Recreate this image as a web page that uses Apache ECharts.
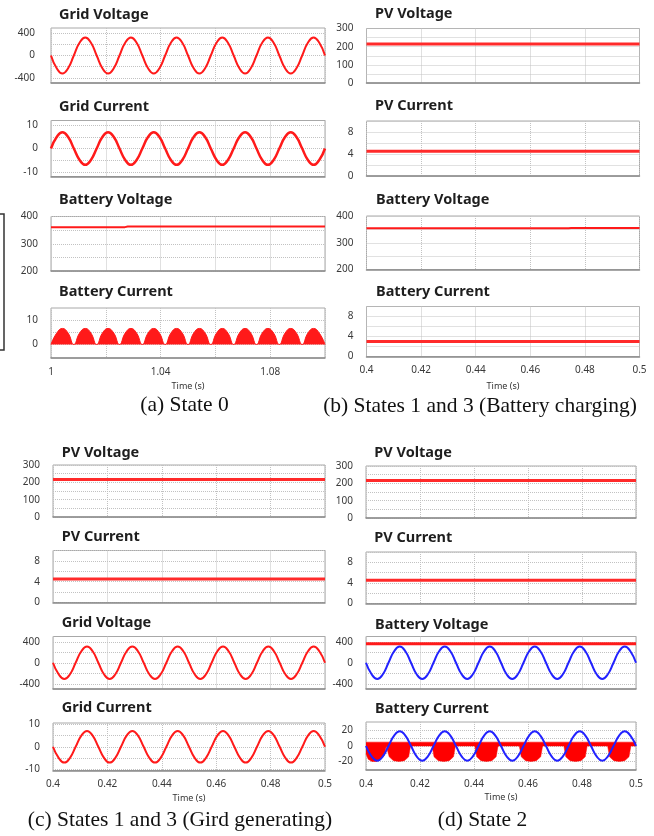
<!DOCTYPE html>
<html><head><meta charset="utf-8">
<script src="https://cdn.jsdelivr.net/npm/echarts@6/dist/echarts.min.js"></script>
<style>html,body{margin:0;padding:0;background:#fff}#c{width:654px;height:836px}</style>
</head><body><div id="c"></div><script>
// ---------- time bases ----------
const timeA = [1, 1.00208, 1.00417, 1.00625, 1.00833, 1.01042, 1.0125, 1.01458, 1.01667, 1.01875, 1.02083, 1.02292, 1.025, 1.02708, 1.02917, 1.03125, 1.03333, 1.03542, 1.0375, 1.03958, 1.04167, 1.04375, 1.04583, 1.04792, 1.05, 1.05208, 1.05417, 1.05625, 1.05833, 1.06042, 1.0625, 1.06458, 1.06667, 1.06875, 1.07083, 1.07292, 1.075, 1.07708, 1.07917, 1.08125, 1.08333, 1.08542, 1.0875, 1.08958, 1.09167, 1.09375, 1.09583, 1.09792, 1.1];
const timeB = [0.4, 0.40208, 0.40417, 0.40625, 0.40833, 0.41042, 0.4125, 0.41458, 0.41667, 0.41875, 0.42083, 0.42292, 0.425, 0.42708, 0.42917, 0.43125, 0.43333, 0.43542, 0.4375, 0.43958, 0.44167, 0.44375, 0.44583, 0.44792, 0.45, 0.45208, 0.45417, 0.45625, 0.45833, 0.46042, 0.4625, 0.46458, 0.46667, 0.46875, 0.47083, 0.47292, 0.475, 0.47708, 0.47917, 0.48125, 0.48333, 0.48542, 0.4875, 0.48958, 0.49167, 0.49375, 0.49583, 0.49792, 0.5];
const timeFlatA = [1, 1.1];
const timeFlatB = [0.4, 0.5];

// ---------- (a) State 0 ----------
const gridVoltageA = [
  0, -226, -320, -226, 0, 226, 320, 226,
  0, -226, -320, -226, 0, 226, 320, 226,
  0, -226, -320, -226, 0, 226, 320, 226,
  0, -226, -320, -226, 0, 226, 320, 226,
  0, -226, -320, -226, 0, 226, 320, 226,
  0, -226, -320, -226, 0, 226, 320, 226, 0];
const gridCurrentA = [
  0, 4.9, 7, 4.9, 0, -4.9, -7, -4.9,
  0, 4.9, 7, 4.9, 0, -4.9, -7, -4.9,
  0, 4.9, 7, 4.9, 0, -4.9, -7, -4.9,
  0, 4.9, 7, 4.9, 0, -4.9, -7, -4.9,
  0, 4.9, 7, 4.9, 0, -4.9, -7, -4.9,
  0, 4.9, 7, 4.9, 0, -4.9, -7, -4.9, 0];
const batteryVoltageTimeA = [1, 1.027, 1.028, 1.1];
const batteryVoltageA = [361, 361, 363, 363];
const batteryCurrentA = [
  0, 4.6, 6.5, 4.6, 0, 4.6, 6.5, 4.6,
  0, 4.6, 6.5, 4.6, 0, 4.6, 6.5, 4.6,
  0, 4.6, 6.5, 4.6, 0, 4.6, 6.5, 4.6,
  0, 4.6, 6.5, 4.6, 0, 4.6, 6.5, 4.6,
  0, 4.6, 6.5, 4.6, 0, 4.6, 6.5, 4.6,
  0, 4.6, 6.5, 4.6, 0, 4.6, 6.5, 4.6, 0];

// ---------- (b) States 1 and 3 (Battery charging) ----------
const pvVoltageB = [215, 215];
const pvCurrentB = [4.5, 4.5];
const batteryVoltageTimeB = [0.4, 0.474, 0.475, 0.5];
const batteryVoltageB = [354, 354, 355, 355];
const batteryCurrentB = [3, 3];

// ---------- (c) States 1 and 3 (Gird generating) ----------
const pvVoltageC = [217, 217];
const pvCurrentC = [4.5, 4.5];
const gridVoltageC = [
  0, -219, -310, -219, 0, 219, 310, 219,
  0, -219, -310, -219, 0, 219, 310, 219,
  0, -219, -310, -219, 0, 219, 310, 219,
  0, -219, -310, -219, 0, 219, 310, 219,
  0, -219, -310, -219, 0, 219, 310, 219,
  0, -219, -310, -219, 0, 219, 310, 219, 0];
const gridCurrentC = [
  0, -4.9, -7, -4.9, 0, 4.9, 7, 4.9,
  0, -4.9, -7, -4.9, 0, 4.9, 7, 4.9,
  0, -4.9, -7, -4.9, 0, 4.9, 7, 4.9,
  0, -4.9, -7, -4.9, 0, 4.9, 7, 4.9,
  0, -4.9, -7, -4.9, 0, 4.9, 7, 4.9,
  0, -4.9, -7, -4.9, 0, 4.9, 7, 4.9, 0];

// ---------- (d) State 2 ----------
const pvVoltageD = [217, 217];
const pvCurrentD = [4.5, 4.5];
const batteryVoltageD = [360, 360];
const gridVoltageD = [
  0, -219, -310, -219, 0, 219, 310, 219,
  0, -219, -310, -219, 0, 219, 310, 219,
  0, -219, -310, -219, 0, 219, 310, 219,
  0, -219, -310, -219, 0, 219, 310, 219,
  0, -219, -310, -219, 0, 219, 310, 219,
  0, -219, -310, -219, 0, 219, 310, 219, 0];
const batteryCurrentBandD = [5, 5];
const batteryLobeTimeD = [0.4, 0.4008, 0.4022, 0.4038, 0.4055, 0.4068, 0.4075,
  0.4079, 0.4086, 0.4102, 0.4122, 0.4142, 0.4158, 0.4165,
  0.4245, 0.4252, 0.4268, 0.4288, 0.4308, 0.4324, 0.4331,
  0.4403, 0.441, 0.4426, 0.4446, 0.4466, 0.4482, 0.4489,
  0.4568, 0.4575, 0.4591, 0.4611, 0.4631, 0.4647, 0.4654,
  0.4733, 0.474, 0.4756, 0.4776, 0.4796, 0.4812, 0.4819,
  0.4895, 0.4902, 0.4918, 0.4938, 0.4958, 0.4974, 0.4981, 0.5];
const batteryLobeCurrentD = [-10, -17, -20, -20, -17, -12, 0,
  0, -14, -19, -20, -19, -14, 0,
  0, -14, -19, -20, -19, -14, 0,
  0, -14, -19, -20, -19, -14, 0,
  0, -14, -19, -20, -19, -14, 0,
  0, -14, -19, -20, -19, -14, 0,
  0, -14, -19, -20, -19, -14, 0, 0];
const gridCurrentD = [
  0, -13.4, -19, -13.4, 0, 13.4, 19, 13.4,
  0, -13.4, -19, -13.4, 0, 13.4, 19, 13.4,
  0, -13.4, -19, -13.4, 0, 13.4, 19, 13.4,
  0, -13.4, -19, -13.4, 0, 13.4, 19, 13.4,
  0, -13.4, -19, -13.4, 0, 13.4, 19, 13.4,
  0, -13.4, -19, -13.4, 0, 13.4, 19, 13.4, 0];

// ---------- ticks / labels ----------
const xTicksA = [1, 1.02, 1.04, 1.06, 1.08, 1.1];
const xLabelsA = [1, 1.04, 1.08];
const xTicksB = [0.4, 0.42, 0.44, 0.46, 0.48, 0.5];
const xLabelsB = [0.4, 0.42, 0.44, 0.46, 0.48, 0.5];
const gvTicks = [-400, -200, 0, 200, 400];
const gvLabels = [-400, 0, 400];
const gcTicks = [-10, -5, 0, 5, 10];
const gcLabels = [-10, 0, 10];
const bvTicks = [200, 250, 300, 350, 400];
const bvLabels = [200, 300, 400];
const bcTicksA = [0, 5, 10];
const bcLabelsA = [0, 10];
const pvvTicks = [0, 50, 100, 150, 200, 250, 300];
const pvvLabels = [0, 100, 200, 300];
const pviTicks = [0, 2, 4, 6, 8, 10];
const pviLabels = [0, 4, 8];
const bcTicksD = [-20, -10, 0, 10, 20];
const bcLabelsD = [-20, 0, 20];

const titles = ['Grid Voltage', 'Grid Current', 'Battery Voltage', 'Battery Current', 'PV Voltage', 'PV Current'];
const captions = ['(a) State 0', '(b) States 1 and 3 (Battery charging)', '(c) States 1 and 3 (Gird generating)', '(d) State 2'];
const timeLabel = 'Time (s)';

// ---------- build ----------
const FONT = '"Noto Sans", "Open Sans", sans-serif';
const RED = '#ff1a1a', BLUE = '#2222ff';
const grids = [], xAxes = [], yAxes = [], series = [], graphics = [];
function zip(x, y) { return x.map((t, k) => [t, y[k]]); }
function panel(p) {
  const i = grids.length;
  grids.push({left: p.box[0], top: p.box[1], width: p.box[2], height: p.box[3], show: true,
    borderColor: '#a8a8a8', borderWidth: 1, backgroundColor: '#fff'});
  xAxes.push({type: 'value', gridIndex: i, min: p.xr[0], max: p.xr[1],
    axisLine: {show: true, onZero: false, lineStyle: {color: '#8a8a8a', width: 1.5}},
    axisTick: {show: false, customValues: p.xt},
    axisLabel: {show: !!p.xl, customValues: p.xl || p.xt, color: '#3a3a3a', fontSize: 10, fontFamily: FONT, margin: 9},
    splitLine: {show: true, lineStyle: {color: '#c2c2c2', type: 'dotted', width: 1}}});
  yAxes.push({type: 'value', gridIndex: i, min: p.yr[0], max: p.yr[1],
    axisLine: {show: false},
    axisTick: {show: false, customValues: p.yt},
    axisLabel: {customValues: p.yl, color: '#3a3a3a', fontSize: 10, fontFamily: FONT, margin: p.ym || 13},
    splitLine: {show: true, lineStyle: {color: '#c2c2c2', type: 'dotted', width: 1}}});
  p.s.forEach(s => {
    const o = {type: 'line', xAxisIndex: i, yAxisIndex: i, data: zip(s.x, s.y), showSymbol: false,
      smooth: s.smooth || false, lineStyle: {color: s.c, width: s.w}, silent: true, animation: false, z: s.z || 2};
    if (s.area) o.areaStyle = {color: s.c, opacity: 1};
    series.push(o);
  });
  graphics.push({type: 'text', x: p.tx, y: p.ty, style: {text: p.title, fill: '#1e1e1e',
    font: 'bold 14.5px ' + FONT, verticalAlign: 'middle', align: 'left'}});
}

// (a)
panel({box: [51, 28, 274, 55], xr: [1, 1.1], xt: xTicksA, yr: [-490, 490], yt: gvTicks, yl: gvLabels, ym: 16,
  title: titles[0], tx: 59, ty: 15, s: [{x: timeA, y: gridVoltageA, c: RED, w: 2, smooth: true}]});
panel({box: [51, 120.5, 274, 56], xr: [1, 1.1], xt: xTicksA, yr: [-12, 12], yt: gcTicks, yl: gcLabels,
  title: titles[1], tx: 59, ty: 106.5, s: [{x: timeA, y: gridCurrentA, c: RED, w: 2.5, smooth: true}]});
panel({box: [51, 216.5, 274, 54.5], xr: [1, 1.1], xt: xTicksA, yr: [200, 400], yt: bvTicks, yl: bvLabels,
  title: titles[2], tx: 59, ty: 200, s: [{x: batteryVoltageTimeA, y: batteryVoltageA, c: RED, w: 2}]});
panel({box: [51, 308, 274, 50], xr: [1, 1.1], xt: xTicksA, xl: xLabelsA, yr: [-5.5, 14.8], yt: bcTicksA, yl: bcLabelsA,
  title: titles[3], tx: 59, ty: 292.3, s: [{x: timeA, y: batteryCurrentA, c: RED, w: 1, smooth: true, area: true}]});

// (b)
panel({box: [366.5, 28.5, 273, 54.5], xr: [0.4, 0.5], xt: xTicksB, yr: [0, 300], yt: pvvTicks, yl: pvvLabels,
  title: titles[4], tx: 375, ty: 13.5, s: [{x: timeFlatB, y: pvVoltageB, c: '#ff2a2a', w: 3}]});
panel({box: [366.5, 121, 273, 55], xr: [0.4, 0.5], xt: xTicksB, yr: [0, 10], yt: pviTicks, yl: pviLabels,
  title: titles[5], tx: 375, ty: 106, s: [{x: timeFlatB, y: pvCurrentB, c: '#ff2a2a', w: 3}]});
panel({box: [366.5, 216, 273, 53.5], xr: [0.4, 0.5], xt: xTicksB, yr: [200, 400], yt: bvTicks, yl: bvLabels,
  title: titles[2], tx: 376, ty: 200, s: [{x: batteryVoltageTimeB, y: batteryVoltageB, c: RED, w: 2}]});
panel({box: [366.5, 306.5, 273, 50], xr: [0.4, 0.5], xt: xTicksB, xl: xLabelsB, yr: [0, 10], yt: pviTicks, yl: pviLabels,
  title: titles[3], tx: 376, ty: 291.7, s: [{x: timeFlatB, y: batteryCurrentB, c: '#ff2a2a', w: 3}]});

// (c)
panel({box: [53, 465, 272, 52], xr: [0.4, 0.5], xt: xTicksB, yr: [0, 300], yt: pvvTicks, yl: pvvLabels,
  title: titles[4], tx: 61.7, ty: 452.7, s: [{x: timeFlatB, y: pvVoltageC, c: '#ff2a2a', w: 3}]});
panel({box: [53, 550.5, 272, 52], xr: [0.4, 0.5], xt: xTicksB, yr: [0, 10], yt: pviTicks, yl: pviLabels,
  title: titles[5], tx: 61.7, ty: 537.3, s: [{x: timeFlatB, y: pvCurrentC, c: '#ff2a2a', w: 3}]});
panel({box: [53, 636.5, 272, 52.5], xr: [0.4, 0.5], xt: xTicksB, yr: [-500, 500], yt: gvTicks, yl: gvLabels,
  title: titles[0], tx: 61.7, ty: 622.7, s: [{x: timeB, y: gridVoltageC, c: RED, w: 2, smooth: true}]});
panel({box: [53, 723, 272, 47.5], xr: [0.4, 0.5], xt: xTicksB, xl: xLabelsB, yr: [-10.5, 10.5], yt: gcTicks, yl: gcLabels,
  title: titles[1], tx: 61.7, ty: 708.3, s: [{x: timeB, y: gridCurrentC, c: RED, w: 2, smooth: true}]});

// (d)
panel({box: [366, 466, 270, 52], xr: [0.4, 0.5], xt: xTicksB, yr: [0, 300], yt: pvvTicks, yl: pvvLabels,
  title: titles[4], tx: 374.3, ty: 453.3, s: [{x: timeFlatB, y: pvVoltageD, c: '#ff2a2a', w: 3}]});
panel({box: [366, 552, 270, 51.5], xr: [0.4, 0.5], xt: xTicksB, yr: [0, 10], yt: pviTicks, yl: pviLabels,
  title: titles[5], tx: 374.3, ty: 538.3, s: [{x: timeFlatB, y: pvCurrentD, c: '#ff2a2a', w: 3}]});
panel({box: [366, 636.5, 270, 52.5], xr: [0.4, 0.5], xt: xTicksB, yr: [-500, 500], yt: gvTicks, yl: gvLabels,
  title: titles[2], tx: 375, ty: 625, s: [
    {x: timeFlatB, y: batteryVoltageD, c: RED, w: 3},
    {x: timeB, y: gridVoltageD, c: BLUE, w: 2, smooth: true, z: 3}]});
panel({box: [366, 722, 270, 48], xr: [0.4, 0.5], xt: xTicksB, xl: xLabelsB, yr: [-31, 31], yt: bcTicksD, yl: bcLabelsD,
  title: titles[3], tx: 375, ty: 709.3, s: [
    {x: timeFlatB, y: batteryCurrentBandD, c: '#ff0000', w: 0.5, area: true},
    {x: batteryLobeTimeD, y: batteryLobeCurrentD, c: '#ff0000', w: 0.5, area: true},
    {x: timeB, y: gridCurrentD, c: BLUE, w: 2, smooth: true, z: 3}]});

// time labels & captions
[[188, 386.7], [503, 386], [189, 798.3], [501, 797.7]].forEach(p => graphics.push({type: 'text', x: p[0], y: p[1],
  style: {text: timeLabel, fill: '#333', font: '9px ' + FONT, align: 'center', verticalAlign: 'middle'}}));
[[184.5, 405], [480, 406], [180, 820], [482.5, 820]].forEach((p, k) => graphics.push({type: 'text', x: p[0], y: p[1],
  style: {text: captions[k], fill: '#111', font: '21.5px "Liberation Serif", "DejaVu Serif", serif', align: 'center', verticalAlign: 'middle'}}));
// bracket fragment at far left
graphics.push({type: 'polyline', shape: {points: [[0, 214], [4, 214], [4, 350], [0, 350]]}, style: {stroke: '#333', lineWidth: 1.5, fill: null}});

const chart = echarts.init(document.getElementById('c'), null, {renderer: 'canvas'});
chart.setOption({animation: false, backgroundColor: '#fff', grid: grids, xAxis: xAxes, yAxis: yAxes, series: series, graphic: graphics});
</script></body></html>
